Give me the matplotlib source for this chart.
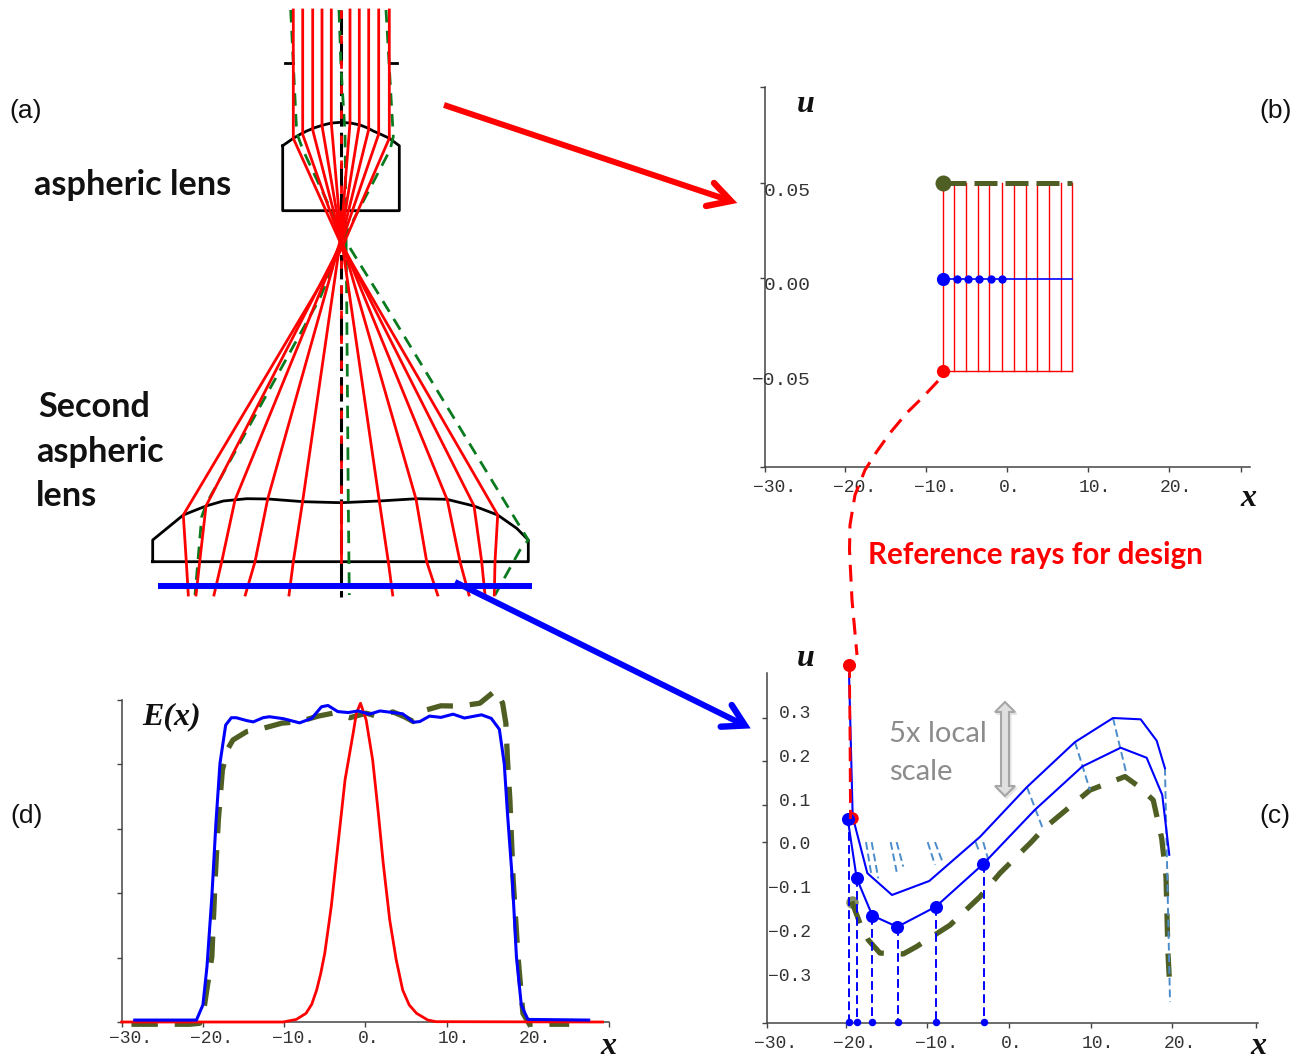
import numpy as np
from matplotlib import pyplot as plt
from matplotlib import transforms
from matplotlib.patches import Polygon

W, H = 1297, 1062
RED = '#ff0000'
BLUE = '#0000ff'
OLIVE = '#4f5f24'
STEEL = '#4b8ccb'
AXC = '#444444'
TXC = '#333333'
MONO = 'Liberation Mono'
SERIF = 'Liberation Serif'
BOLD = 'Lato'

# panel (b), design rays at the input plane
b_ray_x = [-7.94, -6.54, -5.02, -3.54, -2.22, -0.66, 0.82, 2.30, 3.66, 5.19, 6.63, 7.98]
b_small_x = [-6.17, -4.81, -3.42, -2.02, -0.66]
b_start_x = -7.94
b_top_u = 0.0495
b_mid_u = -0.001
b_low_u = -0.0495
b_end_x = 7.98
b_label_u = [0.0463, -0.0032, -0.0532]
b_labels = ['0.05', '0.00', '\u22120.05']
b_tick_u = [0.1, 0.0495, -0.0005, -0.0532, -0.1]

# panel (c), phase space at the target plane
c_upper_x = [-19.58, -19.13, -17.34, -14.32, -9.76, -3.55, 2.20, 8.08, 12.73, 16.12, 18.08, 19.09]
c_upper_u = [0.389, 0.060, -0.069, -0.119, -0.087, 0.014, 0.128, 0.231, 0.286, 0.283, 0.234, 0.171]
c_lower_x = [-19.74, -18.64, -16.73, -13.67, -8.97, -3.15, 3.18, 8.97, 13.67, 16.85, 18.76, 19.62]
c_lower_u = [0.055, -0.081, -0.166, -0.192, -0.146, -0.048, 0.076, 0.175, 0.218, 0.195, 0.110, -0.027]
c_green_x = [-19.25, -18.24, -17.22, -15.79, -12.94, -11.30, -7.22, -3.55, -1.10, 2.78, 4.20, 9.91,
             14.20, 15.83, 17.66, 18.69, 19.22, 19.46, 19.71]
c_green_u = [-0.134, -0.184, -0.222, -0.252, -0.254, -0.237, -0.188, -0.123, -0.069, 0.003, 0.032, 0.121,
             0.152, 0.130, 0.098, 0.011, -0.077, -0.252, -0.340]
c_drop_x = [-19.55, -18.64, -16.73, -13.62, -8.94, -3.10]
c_drop_u = [0.055, -0.081, -0.166, -0.192, -0.146, -0.048]
c_floor_u = -0.41
c_link_x1 = [2.20, 8.08, 12.73, 19.09, -17.50, -16.81, -14.48, -13.75, -9.95, -9.06, -4.08, -3.15]
c_link_u1 = [0.128, 0.231, 0.286, 0.172, 0.002, 0.002, 0.002, 0.002, 0.002, 0.002, 0.002, 0.002]
c_link_x2 = [4.16, 9.91, 14.41, 19.71, -16.81, -16.0, -13.75, -12.94, -9.06, -8.04, -3.64, -2.53]
c_link_u2 = [0.032, 0.121, 0.156, -0.363, -0.077, -0.081, -0.066, -0.054, -0.050, -0.048, -0.020, -0.039]
c_label_u = [0.3, 0.2, 0.1, 0.0, -0.1, -0.2, -0.3]
c_labels = ['0.3', '0.2', '0.1', '0.0', '\u22120.1', '\u22120.2', '\u22120.3']
c_tick_u = [0.286, 0.188, 0.087, 0.002, -0.412]

# panel (d), irradiance across the target
d_blue_x = [-28.4, -20.8, -20.0, -19.5, -18.9, -18.4, -17.9, -17.2, -16.5, -15.9, -14.6, -13.8, -12.6, -11.8,
            -10.1, -8.1, -6.6, -5.4, -4.6, -3.4, -2.1, -0.9, 0.5, 1.8, 3.4, 4.6, 5.9, 6.7, 7.9, 9.3, 10.8,
            12.2, 14.3, 15.5, 16.5, 17.1, 17.5, 18.1, 18.6, 19.2, 20.0, 27.5]
d_blue_e = [0.006, 0.006, 0.053, 0.172, 0.389, 0.617, 0.803, 0.922, 0.945, 0.945, 0.936, 0.932, 0.945, 0.948,
            0.942, 0.929, 0.943, 0.979, 0.983, 0.964, 0.961, 0.966, 0.956, 0.966, 0.961, 0.957, 0.931, 0.933,
            0.950, 0.946, 0.956, 0.944, 0.954, 0.943, 0.909, 0.803, 0.648, 0.441, 0.203, 0.053, 0.008, 0.006]
d_green_x = [-28.8, -21.6, -20.4, -19.8, -18.9, -18.5, -18.1, -17.6, -16.9, -16.3, -14.6, -12.6, -10.3, -8.1,
             -5.8, -4.0, -1.9, 0.1, 1.4, 3.4, 4.8, 5.9, 7.5, 9.3, 11.6, 14.1, 16.1, 16.9, 17.3, 17.5, 17.8,
             18.2, 18.8, 19.4, 20.2, 25.1]
d_green_e = [-0.007, -0.007, -0.004, 0.053, 0.203, 0.441, 0.627, 0.783, 0.850, 0.876, 0.902, 0.912, 0.928, 0.933,
             0.950, 0.959, 0.945, 0.959, 0.950, 0.963, 0.948, 0.933, 0.969, 0.982, 0.981, 0.990, 1.031, 0.990,
             0.928, 0.814, 0.689, 0.441, 0.203, 0.027, -0.007, -0.007]
d_red_x = [-30.0, -10.1, -8.5, -7.3, -6.6, -6.0, -5.5, -5.0, -4.2, -3.4, -2.5, -1.5, -1.1, -0.6, 0.1, 0.9, 1.6,
           2.2, 3.0, 3.8, 4.6, 5.4, 6.3, 7.7, 8.7, 29.2]
d_red_e = [0.0, 0.0, 0.008, 0.027, 0.055, 0.099, 0.150, 0.213, 0.358, 0.544, 0.752, 0.897, 0.959, 0.990, 0.938,
           0.814, 0.648, 0.493, 0.317, 0.193, 0.099, 0.053, 0.027, 0.006, 0.001, 0.0]
d_tick_e = [0.0, 0.2, 0.4, 0.6, 0.8, 1.0]

x_tick_vals = [-20, -10, 0, 10, 20]
x_tick_text = ['\u221230.', '\u221220.', '\u221210.', '0.', '10.', '20.', '']

# lens drawing, picture coordinates
ray_top_x = [293.3, 302.7, 312.7, 322, 331.3, 341, 350, 359.3, 368.7, 378.7, 389.3]
ray_hit_y = [138.3, 134.5, 130, 125.5, 123, 122.3, 123, 125, 129.5, 134, 138.3]
ray_cross_y = [244, 242, 240, 238, 236, 236, 236, 238, 241, 244, 250]
ray_low_x = [183.3, 206, 235, 267.7, 302.7, 341, 379.3, 416, 447.3, 474, 497.7]
ray_low_y = [515, 506, 500, 499, 501, 502.3, 501, 499, 500, 505.7, 515]
ray_exit_x = [186.3, 199.7, 221.7, 255, 293.3, 341, 388.3, 426.7, 460, 481.7, 495]
ray_end_x = [188.3, 196, 214, 245.3, 289, 341, 392.7, 437.7, 469, 485, 494.3]
ray_start_y = 10
ray_exit_y = 561.7
ray_end_y = 595

lens1_x = [282.7, 293.3, 300, 306.7, 314.7, 323.3, 331, 341, 351, 360, 367, 373.3, 381, 389.3, 399.3, 399.3,
           282.7, 282.7]
lens1_y = [145.7, 138.3, 134.4, 131, 127.7, 125, 123.1, 122.3, 123.1, 125, 127.7, 131, 134.4, 138.3, 145.7,
           210.7, 210.7, 145.7]
lens2_x = [152.7, 152.7, 183.3, 206, 223.3, 246.7, 268.3, 303.3, 341, 379.3, 416.7, 446.7, 474, 497.7, 516.7,
           528.3, 528.3, 152.7]
lens2_y = [561.7, 540, 515, 506, 501, 498.7, 499, 501.7, 502.7, 501, 498.7, 499.3, 506, 515, 528.3, 540, 561.7,
           561.7]

green_left_x = [290.7, 296.7, 303, 345, 381, 520, 528.3, 520, 495]
green_left_y = [10, 133, 150, 240, 298, 526.7, 540, 550, 595]
green_right_x = [386, 393.3, 390, 346.7, 320, 206.7, 201.7, 195]
green_right_y = [10, 136.7, 150, 233, 298, 503, 516.7, 595]
green_mid_x = [339, 341, 345, 346.7, 348.3, 349.3]
green_mid_y = [10, 67, 133, 300, 503, 595]

link_x = [938, 923, 906.7, 890, 876.7, 865, 855, 850, 849.5, 852, 857]
link_y = [381, 397, 413, 433, 451.7, 470, 495, 525, 550, 600, 655]

red_arrow_x = [444, 731]
red_arrow_y = [105, 201]
red_head_x = [714, 731, 706]
red_head_y = [183, 201, 206]
blue_arrow_x = [455, 745]
blue_arrow_y = [582, 725.5]
blue_head_x = [731.7, 745, 720.7]
blue_head_y = [705, 725.5, 726.7]

arrow_x = [1005, 1015, 1009, 1009, 1015, 1005, 995, 1001, 1001, 995]
arrow_y = [702, 712, 712, 786, 786, 796, 786, 786, 712, 712]


def px_axes(fig, left, top, right, bottom):
    return fig.add_axes([left / W, 1 - bottom / H, (right - left) / W, (bottom - top) / H])


def style_axes(ax, xlim, ylim, last_x, pad):
    ax.set_xlim(xlim)
    ax.set_ylim(ylim)
    ax.patch.set_alpha(0)
    for s in ['top', 'right']:
        ax.spines[s].set_visible(False)
    for s in ['left', 'bottom']:
        ax.spines[s].set_color(AXC)
        ax.spines[s].set_linewidth(1.1)
    ax.set_xticks([xlim[0]] + x_tick_vals + [last_x])
    ax.set_xticklabels(x_tick_text, family=MONO, fontsize=13, color=TXC)
    ax.tick_params(axis='x', length=3.5, width=1, color=AXC, pad=pad)
    shifts = [9, 9, 9, 3, 7, 7, 7]
    for lab, s in zip(ax.get_xticklabels(), shifts):
        lab.set_transform(lab.get_transform() + transforms.ScaledTranslation(s / 100, 0, fig.dpi_scale_trans))


def inner_y_labels(ax, vals, labels, ticks, size, pad):
    ax.set_yticks(vals)
    ax.set_yticklabels(labels, family=MONO, fontsize=size, color=TXC)
    ax.tick_params(axis='y', which='major', length=0, pad=pad)
    ax.set_yticks(ticks, minor=True)
    ax.tick_params(axis='y', which='minor', length=3.5, width=1, color=AXC)


fig = plt.figure(figsize=(W / 100, H / 100), dpi=100, facecolor='white')

# panel b
axb = px_axes(fig, 765, 87, 1250, 467)
style_axes(axb, (-29.9, 30), (-0.1, 0.1), 28.9, 5)
inner_y_labels(axb, b_label_u, b_labels, b_tick_u, 14, -33)
for rx in b_ray_x:
    axb.plot([rx, rx], [b_low_u, b_top_u], color=RED, lw=1.0, zorder=2)
axb.plot([b_start_x, b_end_x], [b_low_u, b_low_u], color=RED, lw=1.0, zorder=2)
axb.plot([b_start_x, b_end_x], [b_mid_u, b_mid_u], color=BLUE, lw=1.2, zorder=3)
axb.plot([b_start_x, b_end_x], [b_top_u, b_top_u], color=OLIVE, lw=3.6, dashes=(4.6, 1.6), zorder=3)
axb.plot(b_small_x, [b_mid_u] * len(b_small_x), 'o', color=BLUE, ms=6, mew=0, zorder=4)
axb.plot([b_start_x], [b_mid_u], 'o', color=BLUE, ms=9.5, mew=0, zorder=5)
axb.plot([b_start_x], [b_low_u], 'o', color=RED, ms=9.5, mew=0, zorder=5)
axb.plot([b_start_x], [b_top_u], 'o', color=OLIVE, ms=11.5, mew=0, zorder=5)

# panel c
axc = px_axes(fig, 767, 673, 1258, 1023)
style_axes(axc, (-29.62, 30.48), (-0.412, 0.389), 30.2, 5.5)
inner_y_labels(axc, c_label_u, c_labels, c_tick_u, 13, -31.5)
axc.plot(c_green_x[0], c_green_u[0], 'o', color=OLIVE, ms=9, mew=0, alpha=0.7, zorder=2)
axc.plot(c_green_x, c_green_u, color=OLIVE, lw=3.8, dashes=(4.4, 3.2), zorder=2)
for x1, u1, x2, u2 in zip(c_link_x1, c_link_u1, c_link_x2, c_link_u2):
    axc.plot([x1, x2], [u1, u2], color=STEEL, lw=1.4, dashes=(4, 2), zorder=3)
axc.plot(c_upper_x, c_upper_u, color=BLUE, lw=1.5, zorder=4)
axc.plot(c_lower_x, c_lower_u, color=BLUE, lw=1.5, zorder=4)
for dx, du in zip(c_drop_x, c_drop_u):
    axc.plot([dx, dx], [du, c_floor_u], color=BLUE, lw=1.4, dashes=(4.5, 2.2), zorder=3)
axc.plot(c_drop_x, [c_floor_u] * len(c_drop_x), 'o', color=BLUE, ms=5.4, mew=0, clip_on=False, zorder=5)
axc.plot([c_upper_x[1] - 0.1], [c_upper_u[1] - 0.003], 'o', color=RED, ms=9, mew=0, zorder=4)
axc.plot(c_lower_x[:6], c_lower_u[:6], 'o', color=BLUE, ms=9.4, mew=0, zorder=6)

# panel d
axd = px_axes(fig, 121.7, 700, 609, 1022)
style_axes(axd, (-30, 30), (0, 1), 30, 2.5)
axd.set_yticks(d_tick_e)
axd.set_yticklabels([])
axd.tick_params(axis='y', length=3.5, width=1, color=AXC)
axd.plot(d_green_x, d_green_e, color=OLIVE, lw=3.8, dashes=(5, 3.2), clip_on=False, zorder=2)
axd.plot(d_red_x, d_red_e, color=RED, lw=2.0, clip_on=False, zorder=3)
axd.plot(d_blue_x, d_blue_e, color=BLUE, lw=2.2, clip_on=False, zorder=4)

# lens drawing and arrows on a full picture overlay
ov = fig.add_axes([0, 0, 1, 1], zorder=10)
ov.set_xlim(0, W)
ov.set_ylim(H, 0)
ov.axis('off')
ov.patch.set_alpha(0)

ov.plot([285, 293], [63, 63], color='black', lw=2, zorder=1)
ov.plot([390, 397], [63, 63], color='black', lw=2, zorder=1)
ov.plot([341, 341], [10, 597], color='black', lw=2.2, dashes=(8, 2), zorder=1)
ov.plot(lens1_x, lens1_y, color='black', lw=2.0, solid_joinstyle='round', zorder=2)
ov.plot(lens2_x, lens2_y, color='black', lw=2.0, solid_joinstyle='round', zorder=2)

for gx, gy in [(green_left_x, green_left_y), (green_right_x, green_right_y), (green_mid_x, green_mid_y)]:
    ov.plot(gx, gy, color='#0a7a1e', lw=2.0, dashes=(4.5, 3), zorder=3)

n_rays = len(ray_top_x)
for i in range(n_rays):
    j = n_rays - 1 - i
    if i == n_rays // 2:
        ov.plot([341, 341], [ray_start_y, ray_low_y[5]], color=RED, lw=2, dashes=(3, 6), zorder=4)
        ov.plot([341, 341], [ray_low_y[5], ray_exit_y], color=RED, lw=2, zorder=4)
        continue
    ov.plot([ray_top_x[i], ray_top_x[i], 341, ray_low_x[j], ray_exit_x[j], ray_end_x[j]],
            [ray_start_y, ray_hit_y[i], ray_cross_y[i], ray_low_y[j], ray_exit_y, ray_end_y],
            color=RED, lw=2, solid_joinstyle='round', zorder=4)

ov.plot([158, 532], [586, 586], color=BLUE, lw=4.3, solid_capstyle='butt', zorder=5)

ov.plot(red_arrow_x, red_arrow_y, color=RED, lw=4.3, solid_capstyle='butt', zorder=6)
ov.plot(red_head_x, red_head_y, color=RED, lw=4.6, solid_capstyle='round', solid_joinstyle='miter', zorder=6)
ov.plot(blue_arrow_x, blue_arrow_y, color=BLUE, lw=4.3, solid_capstyle='butt', zorder=6)
ov.plot(blue_head_x, blue_head_y, color=BLUE, lw=4.6, solid_capstyle='round', solid_joinstyle='miter', zorder=6)

ov.plot(link_x, link_y, color=RED, lw=2.2, dashes=(5.5, 3.2), zorder=6)
# continuation of the red reference ray down panel c
ov.plot([849.5, 850.5], [664, 819], color=RED, lw=2.0, dashes=(5, 2.5), zorder=3)
ov.plot([849], [664.5], 'o', color=RED, ms=9.4, mew=0, zorder=7)

ov.add_patch(Polygon(np.column_stack([np.array(arrow_x) + 1.5, np.array(arrow_y) + 2]), closed=True,
                     fc='#e4e4e4', ec='#e4e4e4', lw=1.5, zorder=2))
ov.add_patch(Polygon(np.column_stack([arrow_x, arrow_y]), closed=True, fc='#e0e0e0', ec='#a6a6a6', lw=1.5,
                     zorder=3))

# text
for s, tx, ty in [('(a)', 9, 111), ('(b)', 1259, 111), ('(c)', 1259, 816), ('(d)', 10, 816)]:
    ov.text(tx, ty, s, family='Liberation Sans', fontsize=19, color='#111111', ha='left', va='center')
for s, tx, ty in [('aspheric lens', 34, 185), ('Second', 38, 407), ('aspheric', 36, 452), ('lens', 36, 496)]:
    ov.text(tx, ty, s, family=BOLD, weight='bold', fontsize=24.7, color='#111111', ha='left', va='center')
ov.text(868, 555, 'Reference rays for design', family=BOLD, weight='bold', fontsize=21.3, color=RED,
        ha='left', va='center')
ov.text(889, 734, '5x local', family=BOLD, fontsize=21, color='#8c8c8c', ha='left', va='center')
ov.text(889, 772, 'scale', family=BOLD, fontsize=21, color='#8c8c8c', ha='left', va='center')
for s, tx, ty in [('u', 806, 104), ('u', 806, 659), ('x', 1248, 498), ('x', 1258, 1046), ('x', 608, 1047)]:
    ov.text(tx, ty, s, family=SERIF, weight='bold', style='italic', fontsize=23, color='#111111',
            ha='center', va='center')
ov.text(142, 717, 'E(x)', family=SERIF, weight='bold', style='italic', fontsize=23, color='#111111',
        ha='left', va='center')

fig.savefig('out.png', dpi=100, facecolor='white')
